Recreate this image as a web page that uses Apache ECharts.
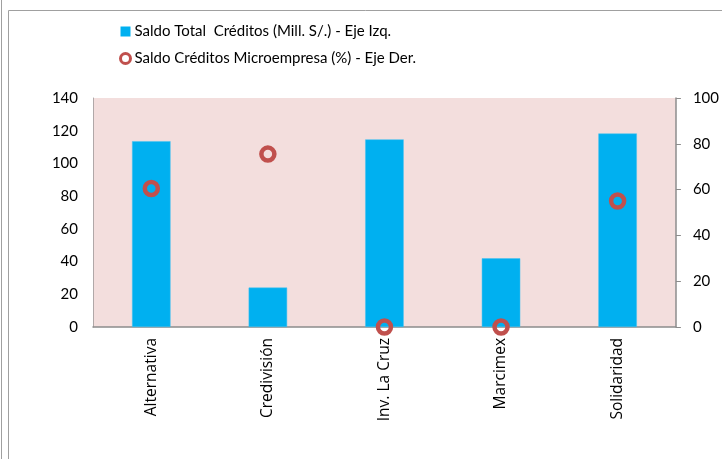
<!DOCTYPE html>
<html>
<head>
<meta charset="utf-8">
<script src="https://cdn.jsdelivr.net/npm/echarts@6/dist/echarts.min.js"></script>
<style>
  html, body { margin: 0; padding: 0; background: #fff; }
  #chart { width: 722px; height: 459px; }
</style>
</head>
<body>
<div id="chart"></div>
<script>
// datos del gráfico
const categorias = ['Alternativa', 'Credivisión', 'Inv. La Cruz', 'Marcimex', 'Solidaridad'];
const saldoTotal = [113.6, 24.1, 114.7, 42, 118.3];      // Mill. S/. - eje izq.
const saldoMicro = [60.5, 75.5, 0, 0, 55];               // % - eje der.
const nombreBarras = 'Saldo Total  Créditos (Mill. S/.) - Eje Izq.';
const nombrePuntos = 'Saldo Créditos Microempresa (%) - Eje Der.';

const fuente = 'Lato';
const fuenteCat = 'Open Sans';
const chart = echarts.init(document.getElementById('chart'), null, { renderer: 'canvas' });

const option = {
  animation: false,
  textStyle: { fontFamily: fuente },
  graphic: [
    // marcos grises del documento
    { type: 'line', shape: { x1: 1.5, y1: 0, x2: 1.5, y2: 459 }, style: { stroke: '#a0a0a0', lineWidth: 1 } },
    { type: 'rect', shape: { x: 8.5, y: 10.5, width: 720, height: 460 }, style: { fill: 'none', stroke: '#a0a0a0', lineWidth: 1 } }
  ],
  legend: {
    orient: 'vertical',
    left: 119,
    top: 24,
    padding: 0,
    itemWidth: 10,
    itemHeight: 10,
    itemGap: 12,
    textStyle: { fontFamily: fuente, fontSize: 15, color: '#000', padding: [0, 0, 0, -1] },
    data: [
      { name: nombreBarras, icon: 'rect', itemStyle: { color: '#00b0f0', borderWidth: 0 } },
      { name: nombrePuntos, icon: 'circle', itemStyle: { color: '#fff', borderColor: '#c0504d', borderWidth: 3 } }
    ]
  },
  grid: {
    left: 93,
    right: 45,
    top: 98,
    bottom: 132,
    show: true,
    backgroundColor: '#f3dedd',
    borderWidth: 0
  },
  xAxis: {
    type: 'category',
    data: categorias,
    axisLine: { lineStyle: { color: '#8c8c8c', width: 1.5 } },
    axisTick: { show: false },
    axisLabel: { rotate: 90, margin: 11, fontSize: 15.5, color: '#000', fontFamily: fuenteCat }
  },
  yAxis: [
    {
      type: 'value',
      min: 0,
      max: 140,
      interval: 20,
      axisLine: { show: true, lineStyle: { color: '#b0a8a8' } },
      axisTick: { show: false },
      splitLine: { show: false },
      axisLabel: { margin: 15, fontSize: 15, color: '#000', fontFamily: fuente }
    },
    {
      type: 'value',
      position: 'right',
      min: 0,
      max: 100,
      interval: 20,
      axisLine: { show: true, lineStyle: { color: '#8c8c8c', width: 1.5 } },
      axisTick: { show: true, length: 5, lineStyle: { color: '#8c8c8c' } },
      splitLine: { show: false },
      axisLabel: { margin: 17, fontSize: 15, color: '#000', fontFamily: fuente }
    }
  ],
  series: [
    {
      name: nombreBarras,
      type: 'bar',
      yAxisIndex: 0,
      barWidth: '33%',
      data: saldoTotal,
      itemStyle: { color: '#00b0f0', borderColor: '#45c2f0', borderWidth: 0.5 }
    },
    {
      name: nombrePuntos,
      type: 'scatter',
      yAxisIndex: 1,
      symbol: 'circle',
      symbolSize: 13,
      z: 5,
      data: saldoMicro,
      itemStyle: { color: 'rgba(0,0,0,0)', borderColor: '#c0504d', borderWidth: 4.5, opacity: 1 }
    }
  ]
};

chart.setOption(option);
</script>
</body>
</html>
